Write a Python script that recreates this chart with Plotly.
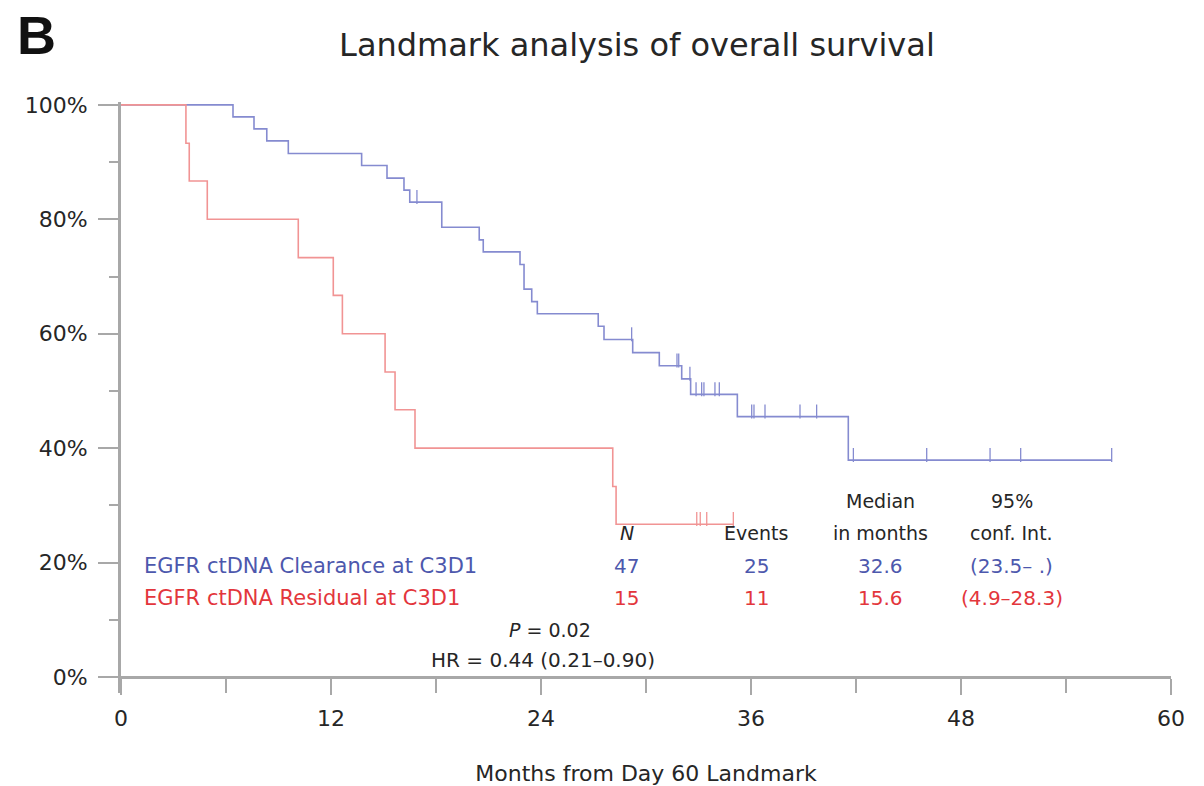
import numpy as np
import plotly.graph_objects as go

# ---------------- data ----------------
# Kaplan-Meier step data (months, survival %)
clear_times = [0, 6.4, 7.6, 8.33, 9.56, 13.75, 15.2, 16.17, 16.5, 18.33, 20.47, 20.7, 22.8, 23.03,
               23.47, 23.79, 27.27, 27.6, 29.24, 30.76, 32.04, 32.55, 35.22, 41.56, 56.61]
clear_surv = [100, 97.9, 95.8, 93.7, 91.5, 89.4, 87.2, 85.1, 83.0, 78.6, 76.4, 74.3, 72.1, 67.8,
              65.6, 63.5, 61.3, 59.0, 56.7, 54.4, 52.1, 49.4, 45.5, 37.9, 37.9]
clear_censor = [16.91, 29.18, 31.77, 31.87, 32.51, 32.86, 33.18, 33.31, 33.94, 34.19, 36.04, 36.17,
                36.8, 38.8, 39.75, 41.85, 46.04, 49.66, 51.41, 56.61]

resid_times = [0, 3.71, 3.9, 4.93, 10.13, 12.13, 12.65, 15.09, 15.66, 16.8, 28.1, 28.29, 34.99]
resid_surv = [100, 93.3, 86.7, 80.0, 73.3, 66.7, 60.0, 53.3, 46.7, 40.0, 33.3, 26.7, 26.7]
resid_censor = [32.9, 33.1, 33.47, 34.99]

groups = ["EGFR ctDNA Clearance at C3D1", "EGFR ctDNA Residual at C3D1"]
n_vals = ["47", "15"]
events_vals = ["25", "11"]
median_vals = ["32.6", "15.6"]
ci_vals = ["(23.5\u2013 .)", "(4.9\u201328.3)"]
p_text = "<i>P</i> = 0.02"
hr_text = "HR = 0.44 (0.21\u20130.90)"

x_ticks = [0, 12, 24, 36, 48, 60]
y_ticks = [0, 20, 40, 60, 80, 100]
y_ticktext = ["0%", "20%", "40%", "60%", "80%", "100%"]

# ---------------- style ----------------
BLUE_LINE = "#858bd0"
RED_LINE = "#f19494"
BLUE_TXT = "#4d58ad"
RED_TXT = "#e3363c"
TXT = "#262626"
AXIS = "#a8a8a8"
FONT = "DejaVu Sans"


def surv_at(times, surv, t):
    idx = np.searchsorted(np.array(times), t, side="right") - 1
    return np.array(surv)[idx]


fig = go.Figure()
for times, surv, cens, col in [(clear_times, clear_surv, clear_censor, BLUE_LINE),
                               (resid_times, resid_surv, resid_censor, RED_LINE)]:
    fig.add_trace(go.Scatter(x=times, y=surv, mode="lines", line=dict(color=col, width=1.6, shape="hv"),
                             hoverinfo="skip", showlegend=False))
    fig.add_trace(go.Scatter(x=cens, y=[surv_at(times, surv, c) + 0.9 for c in cens], mode="markers",
                             marker=dict(symbol="line-ns", size=10, line=dict(color=col, width=1.3)),
                             hoverinfo="skip", showlegend=False))

# table annotations (data coordinates)
col_x = {"label": 1.2, "N": 28.9, "Events": 36.3, "Median": 43.4, "CI": 50.9}
row_y = [19.4, 13.8]
hdr1_y, hdr2_y = 30.7, 25.2


def ann(x, y, text, color=TXT, xanchor="center", size=20):
    fig.add_annotation(x=x, y=y, xref="x", yref="y", text=text, showarrow=False,
                       xanchor=xanchor, yanchor="middle", font=dict(family=FONT, size=size, color=color))


ann(col_x["N"], hdr2_y, "<i>N</i>", size=19)
ann(col_x["Events"], hdr2_y, "Events", size=19)
ann(col_x["Median"], hdr1_y, "Median", size=19)
ann(col_x["Median"], hdr2_y, "in months", size=19)
ann(col_x["CI"], hdr1_y, "95%", size=19)
ann(col_x["CI"], hdr2_y, "conf. Int.", size=19)
for i, colr in enumerate([BLUE_TXT, RED_TXT]):
    ann(col_x["label"], row_y[i], groups[i], colr, xanchor="left", size=21)
    ann(col_x["N"], row_y[i], n_vals[i], colr)
    ann(col_x["Events"], row_y[i], events_vals[i], colr)
    ann(col_x["Median"], row_y[i], median_vals[i], colr)
    ann(col_x["CI"], row_y[i], ci_vals[i], colr)
ann(24.5, 8.2, p_text, size=19)
ann(24.1, 3.0, hr_text, size=20)

# panel letter
fig.add_annotation(x=-0.101, y=1.113, xref="paper", yref="paper", xanchor="left", yanchor="middle",
                   text="<b>B</b>", showarrow=False,
                   font=dict(family="Liberation Sans", size=54, color="#111"))

yr = [-2.8, 100.5]
fig.update_layout(
    width=1204, height=786,
    margin=dict(l=121, r=33, t=102, b=93, autoexpand=False),
    paper_bgcolor="white", plot_bgcolor="white",
    font=dict(family=FONT, color=TXT),
    title=dict(text="Landmark analysis of overall survival", x=0.529, xanchor="center", y=0.943,
               yanchor="middle", font=dict(family=FONT, size=32, color=TXT)),
    xaxis=dict(range=[0, 60], tickvals=x_ticks, ticks="outside", ticklen=16, tickwidth=1.5, tickcolor=AXIS,
               minor=dict(dtick=6, ticks="outside", ticklen=14, tickwidth=1.5, tickcolor=AXIS),
               showline=True, linecolor=AXIS, linewidth=3, showgrid=False, zeroline=False,
               anchor="free", position=-yr[0] / (yr[1] - yr[0]), ticklabelstandoff=5, automargin=False,
               tickfont=dict(family=FONT, size=22, color=TXT),
               title=dict(text="Months from Day 60 Landmark", standoff=35,
                          font=dict(family=FONT, size=22, color=TXT))),
    yaxis=dict(range=yr, tickvals=y_ticks, ticktext=y_ticktext, ticks="outside", ticklen=20, tickwidth=1.5,
               tickcolor=AXIS, automargin=False,
               minor=dict(tickvals=[10, 30, 50, 70, 90], ticks="outside", ticklen=9, tickwidth=1.5,
                          tickcolor=AXIS),
               showline=True, linecolor=AXIS, linewidth=3, showgrid=False, zeroline=False,
               tickfont=dict(family=FONT, size=22, color=TXT), ticklabelstandoff=6),
)

fig.write_html("out.html")
